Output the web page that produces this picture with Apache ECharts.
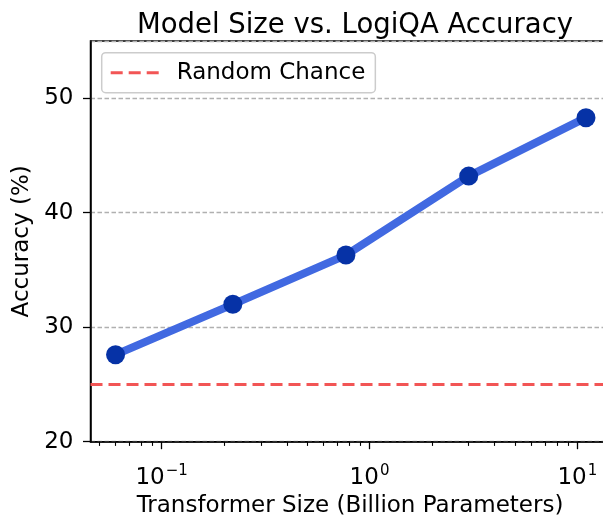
<!DOCTYPE html>
<html>
<head>
<meta charset="utf-8">
<script src="https://cdn.jsdelivr.net/npm/echarts@6/dist/echarts.min.js"></script>
<style>
  html, body { margin: 0; padding: 0; background: #fff; }
  #container { width: 603px; height: 516px; }
</style>
</head>
<body>
<div id="container"></div>
<script>
// model sizes in billions of parameters, and LogiQA accuracy (%)
var sizes = [0.06, 0.22, 0.77, 3, 11];
var accuracy = [27.6, 32.0, 36.3, 43.2, 48.3];
var randomChance = 25;

var xMajorTicks = [0.1, 1, 10];
var yTicks = [20, 30, 40, 50];

var FONT = 'DejaVu Sans';

function minorTicks() {
    var out = [];
    [0.01, 0.1, 1].forEach(function (d) {
        for (var k = 2; k <= 9; k++) out.push(+(k * d).toPrecision(3));
    });
    return out;
}

// 10^n written as rich text with a raised exponent
function powLabel(v) {
    var e = Math.round(Math.log10(v));
    var s = (e < 0 ? '\u2212' : '') + Math.abs(e);
    return '{b|10}{s|' + s + '}';
}

function getOption() {
    var xMin = Math.pow(10, -1.3424);
    var xMax = Math.pow(10, 1.1546);
    var data = sizes.map(function (s, i) { return [s, accuracy[i]]; });

    var baseX = {
        type: 'log',
        logBase: 10,
        position: 'bottom',
        min: xMin,
        max: xMax,
        splitLine: { show: false }
    };

    return {
        animation: false,
        backgroundColor: '#fff',
        textStyle: { fontFamily: FONT },
        title: {
            text: 'Model Size vs. LogiQA Accuracy',
            left: 350,
            textAlign: 'center',
            top: 7,
            textStyle: { fontFamily: FONT, fontSize: 27.5, fontWeight: 'normal', color: '#000' }
        },
        grid: {
            left: 90.5,
            right: -6.5,
            top: 41,
            bottom: 74.3,
            show: true,
            borderColor: '#000',
            borderWidth: 1.5,
            outerBoundsMode: 'none',
            containLabel: false
        },
        legend: {
            data: [{
                name: 'Random Chance',
                icon: 'path://M0,0h12v3h-12z M18,0h12v3h-12z M36,0h12v3h-12z'
            }],
            left: 101.7,
            top: 52.7,
            orient: 'vertical',
            itemWidth: 48,
            itemHeight: 3.5,
            selectedMode: false,
            padding: [8, 10, 8, 9],
            backgroundColor: 'rgba(255,255,255,0.85)',
            borderColor: '#cccccc',
            borderWidth: 1.5,
            borderRadius: 4,
            textStyle: { fontFamily: FONT, fontSize: 23, color: '#000', padding: [0, 0, 0, 13], lineHeight: 24 }
        },
        xAxis: [
            Object.assign({}, baseX, {
                name: 'Transformer Size (Billion Parameters)',
                nameLocation: 'middle',
                nameGap: 51,
                nameTextStyle: { fontFamily: FONT, fontSize: 23, color: '#000' },
                axisLine: { show: true, lineStyle: { color: '#000', width: 1.5 } },
                axisTick: { show: true, customValues: xMajorTicks, length: 7.5, lineStyle: { color: '#000', width: 1.3 } },
                axisLabel: {
                    customValues: xMajorTicks,
                    margin: 22,
                    color: '#000',
                    formatter: powLabel,
                    rich: {
                        b: { fontFamily: FONT, fontSize: 23, lineHeight: 26, verticalAlign: 'bottom', color: '#000' },
                        s: { fontFamily: FONT, fontSize: 15, lineHeight: 15, verticalAlign: 'top', color: '#000', padding: [0, 0, 0, 1] }
                    }
                }
            }),
            Object.assign({}, baseX, {
                axisLine: { show: false, onZero: false },
                axisTick: { show: true, customValues: minorTicks(), length: 4.2, lineStyle: { color: '#000', width: 1.1 } },
                axisLabel: { show: false }
            })
        ],
        yAxis: {
            type: 'value',
            min: 20,
            max: 55,
            interval: 10,
            name: 'Accuracy (%)',
            nameLocation: 'middle',
            nameGap: 56,
            nameTextStyle: { fontFamily: FONT, fontSize: 23, color: '#000' },
            axisLine: { show: true, lineStyle: { color: '#000', width: 1.5 } },
            axisTick: { show: true, length: 7.5, lineStyle: { color: '#000', width: 1.3 } },
            axisLabel: { margin: 17, fontFamily: FONT, fontSize: 23, color: '#000', showMaxLabel: false },
            splitLine: { show: true, lineStyle: { color: '#b0b0b0', width: 1.3, type: [4.5, 2.5] } }
        },
        series: [
            {
                name: 'Random Chance',
                type: 'line',
                data: [],
                color: '#f25555',
                lineStyle: { color: '#f25555', width: 3, type: [12, 6] },
                markLine: {
                    silent: true,
                    symbol: 'none',
                    label: { show: false },
                    lineStyle: { color: '#f25555', width: 3, type: [12, 6] },
                    data: [{ yAxis: randomChance }]
                },
                z: 3
            },
            {
                name: 'Accuracy',
                type: 'line',
                data: data,
                symbol: 'circle',
                symbolSize: 19,
                lineStyle: { color: '#4169e1', width: 8 },
                itemStyle: { color: '#0632a6' },
                z: 4
            }
        ]
    };
}

var chart = echarts.init(document.getElementById('container'), null, { renderer: 'canvas' });
chart.setOption(getOption());
</script>
</body>
</html>
